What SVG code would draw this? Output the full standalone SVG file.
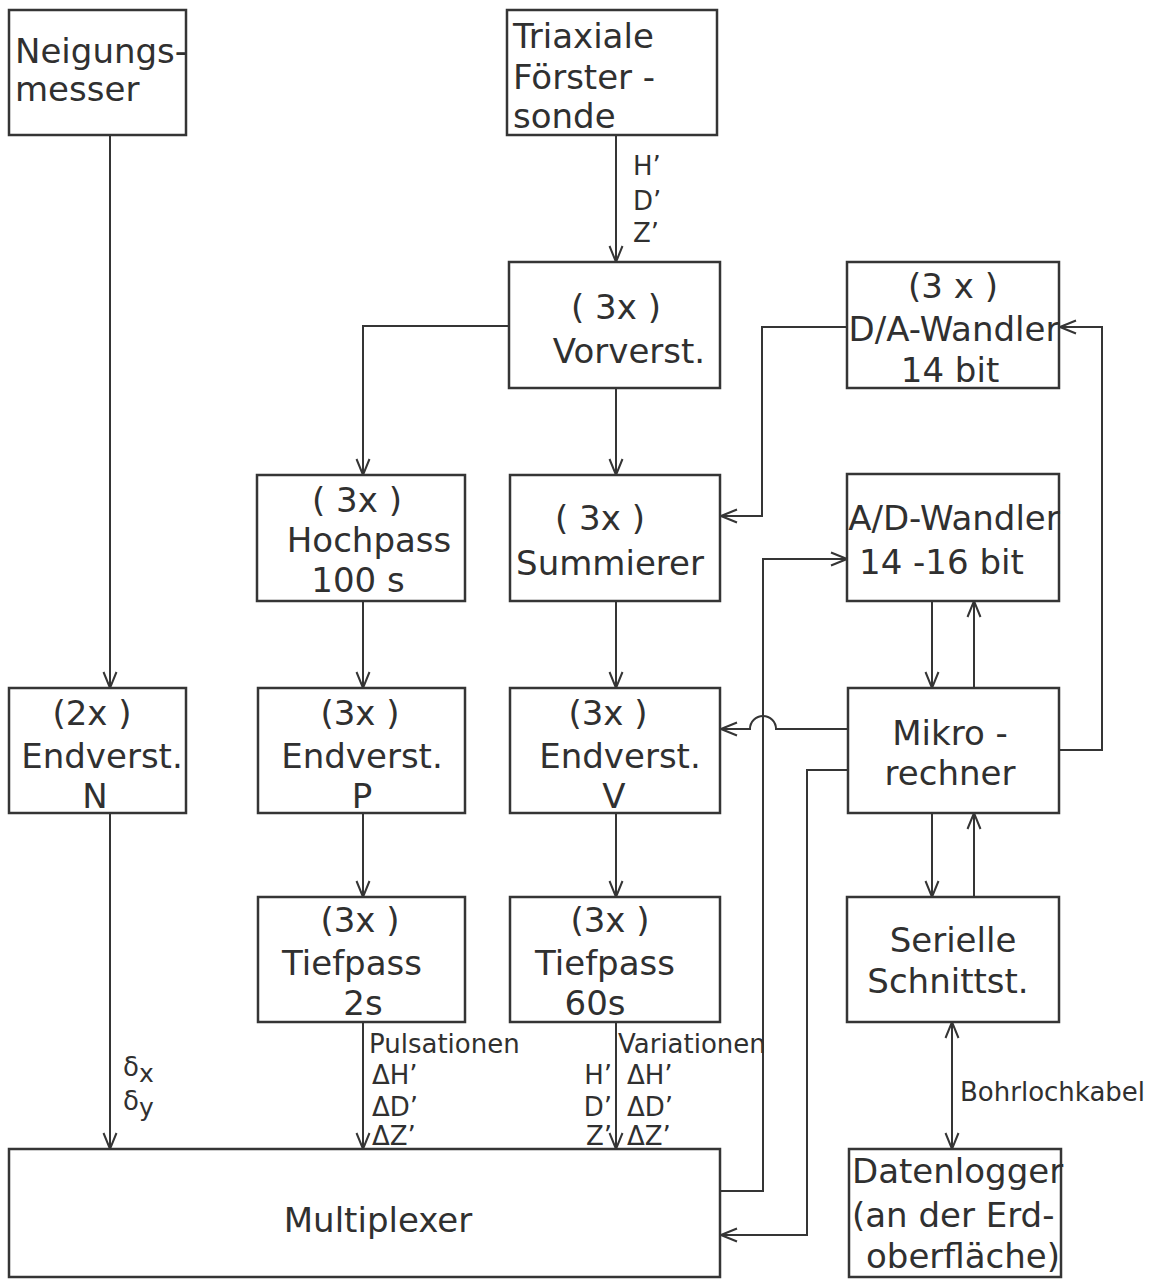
<svg xmlns="http://www.w3.org/2000/svg" width="1154" height="1279" viewBox="0 0 1154 1279">
<defs>
<marker id="arr" markerUnits="userSpaceOnUse" markerWidth="18" markerHeight="16" refX="17" refY="8" orient="auto-start-reverse" viewBox="0 0 18 16">
<path d="M1,1.5 L17,8 L1,14.5" fill="none" stroke="#353535" stroke-width="2"/>
</marker>
</defs>
<style>
.box{fill:#fff;stroke:#353535;stroke-width:2.5}
.t{font-family:"DejaVu Sans","Liberation Sans",sans-serif;font-size:34px;fill:#303030;text-anchor:middle}
.tl{font-family:"DejaVu Sans","Liberation Sans",sans-serif;font-size:34px;fill:#303030}
.s{font-family:"DejaVu Sans","Liberation Sans",sans-serif;font-size:26px;fill:#303030}
.c{fill:none;stroke:#353535;stroke-width:2}
.a{marker-end:url(#arr)}
</style>
<rect width="1154" height="1279" fill="#fff"/>

<g id="connectors">
<path class="c a" d="M110,135 V688"/>
<path class="c a" d="M110,813 V1149"/>
<path class="c a" d="M616,135 V262"/>
<path class="c a" d="M509,326 H363 V475"/>
<path class="c a" d="M616,388 V475"/>
<path class="c a" d="M847,327 H762 V516 H721"/>
<path class="c a" d="M363,601 V688"/>
<path class="c a" d="M363,813 V897"/>
<path class="c a" d="M363,1022 V1149"/>
<path class="c a" d="M616,601 V688"/>
<path class="c a" d="M616,813 V897"/>
<path class="c a" d="M616,1022 V1149"/>
<path class="c a" d="M720,1191 H763 V559 H847"/>
<path class="c a" d="M848,729 H776 A13,13 0 0 0 750,729 H721"/>
<path class="c a" d="M848,770 H807 V1235 H721"/>
<path class="c a" d="M932,601 V688"/>
<path class="c a" d="M974,688 V601"/>
<path class="c a" d="M932,813 V897"/>
<path class="c a" d="M974,897 V813"/>
<path class="c a" d="M1059,750 H1102 V327 H1060"/>
<path class="c a" d="M952,1022 V1149" marker-start="url(#arr)"/>
<text class="s" x="633" y="175">H’</text>
<text class="s" x="633" y="210">D’</text>
<text class="s" x="633" y="242">Z’</text>
<text class="s" x="123" y="1076" font-size="30">δ<tspan font-size="25" dy="6">x</tspan></text>
<text class="s" x="123" y="1110" font-size="30">δ<tspan font-size="25" dy="6">y</tspan></text>
<text class="s" x="369" y="1053">Pulsationen</text>
<text class="s" x="372" y="1084">ΔH’</text>
<text class="s" x="372" y="1116">ΔD’</text>
<text class="s" x="372" y="1145">ΔZ’</text>
<text class="s" x="618" y="1053">Variationen</text>
<text class="s" x="627" y="1084">ΔH’</text>
<text class="s" x="627" y="1116">ΔD’</text>
<text class="s" x="627" y="1145">ΔZ’</text>
<text class="s" x="612" y="1084" text-anchor="end">H’</text>
<text class="s" x="612" y="1116" text-anchor="end">D’</text>
<text class="s" x="612" y="1145" text-anchor="end">Z’</text>
<text class="s" x="960" y="1101" font-size="25">Bohrlochkabel</text>
</g>

<g id="neigungsmesser">
<rect class="box" x="9" y="10" width="177" height="125"/>
<text class="tl" x="15" y="63" font-size="32">Neigungs-</text>
<text class="tl" x="15" y="101" font-size="32">messer</text>
</g>

<g id="foerstersonde">
<rect class="box" x="507" y="10" width="210" height="125"/>
<text class="tl" x="513" y="48">Triaxiale</text>
<text class="tl" x="513" y="89">Förster -</text>
<text class="tl" x="513" y="128">sonde</text>
</g>

<g id="vorverst">
<rect class="box" x="509" y="262" width="211" height="126"/>
<text class="t" x="616" y="319">( 3x )</text>
<text class="t" x="629" y="363">Vorverst.</text>
</g>

<g id="da-wandler">
<rect class="box" x="847" y="262" width="212" height="126"/>
<text class="t" x="953" y="298">(3 x )</text>
<text class="t" x="954" y="341" font-size="31">D/A-Wandler</text>
<text class="t" x="950" y="382">14 bit</text>
</g>

<g id="hochpass">
<rect class="box" x="257" y="475" width="208" height="126"/>
<text class="t" x="357" y="512">( 3x )</text>
<text class="t" x="369" y="552">Hochpass</text>
<text class="t" x="358" y="592">100 s</text>
</g>

<g id="summierer">
<rect class="box" x="510" y="475" width="210" height="126"/>
<text class="t" x="600" y="530">( 3x )</text>
<text class="t" x="610" y="575">Summierer</text>
</g>

<g id="ad-wandler">
<rect class="box" x="847" y="474" width="212" height="127"/>
<text class="t" x="954" y="530" font-size="31">A/D-Wandler</text>
<text class="tl" x="859" y="574">14 -16  bit</text>
</g>

<g id="endverst-n">
<rect class="box" x="9" y="688" width="177" height="125"/>
<text class="t" x="92" y="725">(2x )</text>
<text class="t" x="102" y="768">Endverst.</text>
<text class="t" x="95" y="808">N</text>
</g>

<g id="endverst-p">
<rect class="box" x="258" y="688" width="207" height="125"/>
<text class="t" x="360" y="725">(3x )</text>
<text class="t" x="362" y="768">Endverst.</text>
<text class="t" x="362" y="808">P</text>
</g>

<g id="endverst-v">
<rect class="box" x="510" y="688" width="210" height="125"/>
<text class="t" x="608" y="725">(3x )</text>
<text class="t" x="620" y="768">Endverst.</text>
<text class="t" x="614" y="808">V</text>
</g>

<g id="mikrorechner">
<rect class="box" x="848" y="688" width="211" height="125"/>
<text class="t" x="950" y="745">Mikro -</text>
<text class="t" x="950" y="785">rechner</text>
</g>

<g id="tiefpass-2s">
<rect class="box" x="258" y="897" width="207" height="125"/>
<text class="t" x="360" y="932">(3x )</text>
<text class="t" x="352" y="975">Tiefpass</text>
<text class="t" x="363" y="1015">2s</text>
</g>

<g id="tiefpass-60s">
<rect class="box" x="510" y="897" width="210" height="125"/>
<text class="t" x="610" y="932">(3x )</text>
<text class="t" x="605" y="975">Tiefpass</text>
<text class="t" x="595" y="1015">60s</text>
</g>

<g id="serielle">
<rect class="box" x="847" y="897" width="212" height="125"/>
<text class="t" x="953" y="952">Serielle</text>
<text class="t" x="948" y="993">Schnittst.</text>
</g>

<g id="datenlogger">
<rect class="box" x="849" y="1149" width="212" height="128"/>
<text class="tl" x="852" y="1183" font-size="30.5">Datenlogger</text>
<text class="tl" x="852" y="1227" font-size="30.5">(an der Erd-</text>
<text class="tl" x="866" y="1268" font-size="30.5">oberfläche)</text>
</g>

<g id="multiplexer">
<rect class="box" x="9" y="1149" width="711" height="128"/>
<text class="t" x="378" y="1232">Multiplexer</text>
</g>
</svg>
